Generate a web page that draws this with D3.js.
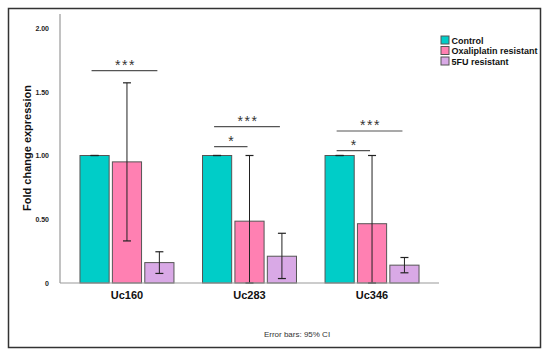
<!DOCTYPE html>
<html>
<head>
<meta charset="utf-8">
<script src="https://cdn.jsdelivr.net/npm/d3@7"></script>
<style>
  body { margin: 0; background: #fff; }
  svg { font-family: "Liberation Sans", Arial, sans-serif; }
</style>
</head>
<body>
<script>

	// chart data
	var groups = ["Uc160", "Uc283", "Uc346"];
	var series = ["Control", "Oxaliplatin resistant", "5FU resistant"];
	var colors = ["#00cdc8", "#ff80b2", "#d9a9e6"];

	var means = [
		[1.00, 0.95, 0.16],
		[1.00, 0.485, 0.21],
		[1.00, 0.465, 0.14]
	];
	var ciLow = [
		[1.00, 0.33, 0.075],
		[1.00, 0.00, 0.035],
		[1.00, 0.00, 0.08]
	];
	var ciHigh = [
		[1.00, 1.57, 0.245],
		[1.00, 1.00, 0.39],
		[1.00, 1.00, 0.20]
	];

	var yTicks = [0, 0.5, 1.0, 1.5, 2.0];
	var yTickLabels = ["0", "0.50", "1.00", "1.50", "2.00"];

	// significance brackets: group, from series, to series, level, stars
	var sigs = [
		{ group: "Uc160", from: 0, to: 2, y: 1.665, label: "***" },
		{ group: "Uc283", from: 0, to: 2, y: 1.226, label: "***" },
		{ group: "Uc283", from: 0, to: 1, y: 1.069, label: "*" },
		{ group: "Uc346", from: 0, to: 2, y: 1.192, label: "***" },
		{ group: "Uc346", from: 0, to: 1, y: 1.038, label: "*" }
	];

	var width = 550;
	var height = 356;

	var svg = d3.select( "body" )
	    .append( "svg" )
	    .attr( "width", width )
	    .attr( "height", height );

	// outer frame
	svg.append( "rect" )
	    .attr( "x", 8.5 )
	    .attr( "y", 8.5 )
	    .attr( "width", 532 )
	    .attr( "height", 339 )
	    .attr( "fill", "none" )
	    .attr( "stroke", "#333" )
	    .attr( "stroke-width", 1.5 );

	var x = d3.scaleBand()
	    .domain( groups )
	    .range( [60, 439] )
	    .paddingInner( 0.233 )
	    .paddingOuter( 0.163 );

	var xSub = d3.scaleBand()
	    .domain( d3.range( series.length ) )
	    .range( [0, x.bandwidth()] )
	    .paddingInner( 0.1 );

	var y = d3.scaleLinear()
	    .domain( [0, 2] )
	    .range( [283, 28] );

	// y axis
	var yAxis = d3.axisLeft( y )
	    .tickValues( yTicks )
	    .tickFormat( function(d, i){ return yTickLabels[i]; } )
	    .tickSize( 0 )
	    .tickPadding( 11 );

	var gy = svg.append( "g" )
	    .attr( "transform", "translate(60,0)" )
	    .call( yAxis );
	gy.select( ".domain" ).remove();
	gy.selectAll( "text" )
	    .attr( "font-size", 7 )
	    .attr( "font-weight", "bold" )
	    .attr( "fill", "#222" );

	svg.append( "line" )
	    .attr( "x1", 60 ).attr( "x2", 60 )
	    .attr( "y1", 14 ).attr( "y2", 283 )
	    .attr( "stroke", "#999" )
	    .attr( "stroke-width", 1.2 );

	// bars
	var g = svg.append( "g" );

	var groupG = g.selectAll( "g.grp" )
	    .data( groups )
	    .enter()
	    .append( "g" )
	    .attr( "class", "grp" )
	    .attr( "transform", function(d){ return "translate(" + x(d) + ",0)"; } );

	groupG.selectAll( "rect" )
	    .data( function(d, gi){ return means[gi].map(function(v, si){ return { si: si, v: v }; }); } )
	    .enter()
	    .append( "rect" )
	    .attr( "x", function(d){ return xSub(d.si); } )
	    .attr( "y", function(d){ return y(d.v); } )
	    .attr( "width", xSub.bandwidth() )
	    .attr( "height", function(d){ return y(0) - y(d.v); } )
	    .attr( "fill", function(d){ return colors[d.si]; } )
	    .attr( "stroke", "#555" )
	    .attr( "stroke-width", 1 );

	// baseline
	svg.append( "line" )
	    .attr( "x1", 60 ).attr( "x2", 439 )
	    .attr( "y1", y(0) ).attr( "y2", y(0) )
	    .attr( "stroke", "#999" )
	    .attr( "stroke-width", 1.2 );

	// error bars
	var errG = groupG.selectAll( "g.err" )
	    .data( function(d, gi){ return means[gi].map(function(v, si){ return { gi: gi, si: si }; }); } )
	    .enter()
	    .append( "g" )
	    .attr( "class", "err" )
	    .attr( "transform", function(d){ return "translate(" + (xSub(d.si) + xSub.bandwidth() / 2) + ",0)"; } );

	errG.append( "line" )
	    .attr( "y1", function(d){ return y(ciLow[d.gi][d.si]); } )
	    .attr( "y2", function(d){ return y(ciHigh[d.gi][d.si]); } )
	    .attr( "stroke", "#222" )
	    .attr( "stroke-width", 1 );
	errG.append( "line" )
	    .attr( "x1", -4 ).attr( "x2", 4 )
	    .attr( "y1", function(d){ return y(ciHigh[d.gi][d.si]); } )
	    .attr( "y2", function(d){ return y(ciHigh[d.gi][d.si]); } )
	    .attr( "stroke", "#222" )
	    .attr( "stroke-width", 1.2 );
	errG.append( "line" )
	    .attr( "x1", -4 ).attr( "x2", 4 )
	    .attr( "y1", function(d){ return y(ciLow[d.gi][d.si]); } )
	    .attr( "y2", function(d){ return y(ciLow[d.gi][d.si]); } )
	    .attr( "stroke", "#222" )
	    .attr( "stroke-width", 1.2 );

	// x labels
	svg.selectAll( "text.xlab" )
	    .data( groups )
	    .enter()
	    .append( "text" )
	    .attr( "class", "xlab" )
	    .attr( "x", function(d){ return x(d) + x.bandwidth() / 2; } )
	    .attr( "y", 299 )
	    .attr( "text-anchor", "middle" )
	    .attr( "font-size", 11 )
	    .attr( "font-weight", "bold" )
	    .attr( "fill", "#111" )
	    .text( function(d){ return d; } );

	// significance lines
	var sigG = svg.append( "g" );
	sigs.forEach(function(s){
		var x1 = x(s.group) + xSub(s.from) + xSub.bandwidth() / 2 - 3;
		var x2 = x(s.group) + xSub(s.to) + xSub.bandwidth() / 2 - 2;
		sigG.append( "line" )
		    .attr( "x1", x1 ).attr( "x2", x2 )
		    .attr( "y1", y(s.y) ).attr( "y2", y(s.y) )
		    .attr( "stroke", "#555" )
		    .attr( "stroke-width", 1.2 );
		sigG.append( "text" )
		    .attr( "x", (x1 + x2) / 2 + 1 )
		    .attr( "y", y(s.y) - 1 )
		    .attr( "text-anchor", "middle" )
		    .attr( "font-size", 14 )
		    .attr( "letter-spacing", 1.5 )
		    .attr( "fill", "#333" )
		    .text( s.label );
	});

	// y title
	svg.append( "text" )
	    .attr( "transform", "translate(31,148) rotate(-90)" )
	    .attr( "text-anchor", "middle" )
	    .attr( "font-size", 11 )
	    .attr( "font-weight", "bold" )
	    .attr( "fill", "#111" )
	    .text( "Fold change expression" );

	// legend
	var legend = svg.append( "g" )
	    .attr( "transform", "translate(441,36)" );
	var li = legend.selectAll( "g" )
	    .data( series )
	    .enter()
	    .append( "g" )
	    .attr( "transform", function(d, i){ return "translate(0," + (i * 10.5) + ")"; } );
	li.append( "rect" )
	    .attr( "width", 8 )
	    .attr( "height", 8 )
	    .attr( "fill", function(d, i){ return colors[i]; } )
	    .attr( "stroke", "#555" )
	    .attr( "stroke-width", 1 );
	li.append( "text" )
	    .attr( "x", 10.5 )
	    .attr( "y", 7.5 )
	    .attr( "font-size", 9 )
	    .attr( "font-weight", "bold" )
	    .attr( "fill", "#111" )
	    .text( function(d){ return d; } );

	// footnote
	svg.append( "text" )
	    .attr( "x", 297 )
	    .attr( "y", 337 )
	    .attr( "text-anchor", "middle" )
	    .attr( "font-size", 8 )
	    .attr( "fill", "#333" )
	    .text( "Error bars: 95% CI" );

</script>
</body>
</html>
